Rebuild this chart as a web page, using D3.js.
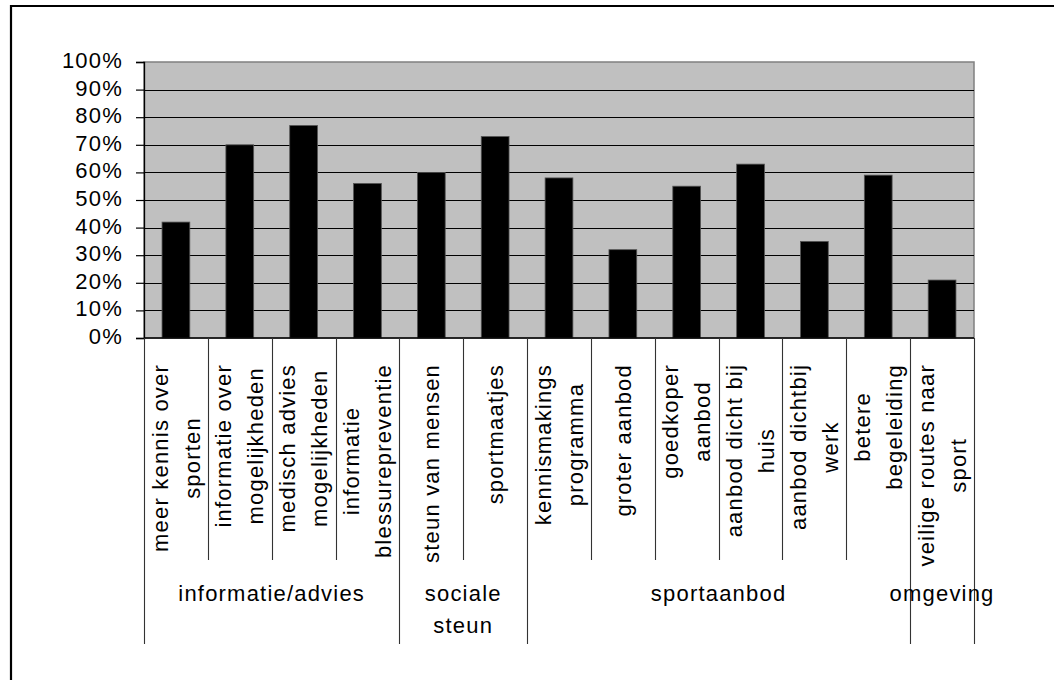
<!DOCTYPE html>
<html>
<head>
<meta charset="utf-8">
<script src="https://cdn.jsdelivr.net/npm/d3@7/dist/d3.min.js"></script>
<style>
  html, body { margin: 0; padding: 0; background: #fff; }
  svg { display: block; }
  text { font-family: "Liberation Sans", Arial, sans-serif; font-size: 22px; letter-spacing: 1.2px; fill: #000; }
</style>
</head>
<body>
<svg id="chart" width="1054" height="680"></svg>
<script>
// Share of respondents per wish (category), grouped by theme
const categories = [
  "meer kennis over\nsporten",
  "informatie over\nmogelijkheden",
  "medisch advies\nmogelijkheden",
  "informatie\nblessurepreventie",
  "steun van mensen",
  "sportmaatjes",
  "kennismakings\nprogramma",
  "groter aanbod",
  "goedkoper\naanbod",
  "aanbod dicht bij\nhuis",
  "aanbod dichtbij\nwerk",
  "betere\nbegeleiding",
  "veilige routes naar\nsport"
];
const values = [0.42, 0.70, 0.77, 0.56, 0.60, 0.73, 0.58, 0.32, 0.55, 0.63, 0.35, 0.59, 0.21];
const groupNames = ["informatie/advies", "sociale\nsteun", "sportaanbod", "omgeving"];
const groupSizes = [4, 2, 6, 1];
const yTicks = [0, 0.1, 0.2, 0.3, 0.4, 0.5, 0.6, 0.7, 0.8, 0.9, 1.0];

const svg = d3.select("#chart");

// plot frame geometry
const plot = { left: 144, right: 974, top: 62, bottom: 338 };
const catLineBottom = 560;
const groupLineBottom = 644;

const x = d3.scaleBand().domain(d3.range(categories.length)).range([plot.left, plot.right]).padding(0);
const y = d3.scaleLinear().domain([0, 1]).range([plot.bottom, plot.top]);

// outer chart border (left and top edges visible)
svg.append("path")
  .attr("d", `M11,690 L11,6 L1060,6`)
  .attr("fill", "none").attr("stroke", "#000").attr("stroke-width", 2.2);

// plot area
svg.append("rect")
  .attr("x", plot.left).attr("y", plot.top)
  .attr("width", plot.right - plot.left).attr("height", plot.bottom - plot.top)
  .attr("fill", "#c0c0c0").attr("stroke", "#808080").attr("stroke-width", 1.5);

// horizontal gridlines
svg.append("g").selectAll("line")
  .data(yTicks.filter(d => d > 0 && d < 1))
  .join("line")
  .attr("x1", plot.left).attr("x2", plot.right)
  .attr("y1", d => Math.round(y(d)) + 0.5).attr("y2", d => Math.round(y(d)) + 0.5)
  .attr("stroke", "#000").attr("stroke-width", 1.2);

// bars
const barW = x.bandwidth() * 0.435;
svg.append("g").selectAll("rect")
  .data(values)
  .join("rect")
  .attr("x", (d, i) => x(i) + (x.bandwidth() - barW) / 2)
  .attr("y", d => y(d))
  .attr("width", barW)
  .attr("height", d => y(0) - y(d))
  .attr("fill", "#000").attr("stroke", "#555").attr("stroke-width", 0.8);

// y axis
const yAxis = svg.append("g")
  .attr("transform", `translate(${plot.left},0)`)
  .call(d3.axisLeft(y).tickValues(yTicks).tickFormat(d3.format(".0%")).tickSize(8).tickPadding(13));
yAxis.attr("font-family", null).attr("font-size", null);
yAxis.select(".domain").attr("stroke", "#000").attr("stroke-width", 1.3);
yAxis.selectAll(".tick line").attr("stroke", "#000").attr("stroke-width", 1.2);
yAxis.selectAll(".tick text").attr("dy", "0.25em");

// x axis baseline
svg.append("line")
  .attr("x1", plot.left).attr("x2", plot.right)
  .attr("y1", plot.bottom).attr("y2", plot.bottom)
  .attr("stroke", "#000").attr("stroke-width", 1.3);

// category divider lines and group divider lines
const groupBounds = [0];
groupSizes.forEach(s => groupBounds.push(groupBounds[groupBounds.length - 1] + s));
const edgeX = i => (i >= categories.length ? plot.right : x(i));
svg.append("g").selectAll("line")
  .data(d3.range(categories.length + 1))
  .join("line")
  .attr("x1", i => Math.round(edgeX(i)) + 0.5).attr("x2", i => Math.round(edgeX(i)) + 0.5)
  .attr("y1", plot.bottom)
  .attr("y2", i => groupBounds.includes(i) ? groupLineBottom : catLineBottom)
  .attr("stroke", "#333").attr("stroke-width", 1.1);

// rotated category labels
const labelTop = 364;
const lineGap = 32;
const catG = svg.append("g");
categories.forEach((c, i) => {
  const lines = c.split("\n");
  const cx = x(i) + x.bandwidth() / 2;
  const g = catG.append("g");
  const texts = lines.map(ln => g.append("text").text(ln).attr("text-anchor", "middle"));
  const maxLen = d3.max(texts, t => t.node().getComputedTextLength());
  const cy = labelTop + maxLen / 2;
  texts.forEach((t, j) => {
    const off = (j - (lines.length - 1) / 2) * lineGap;
    t.attr("transform", `translate(${cx + off},${cy}) rotate(-90)`).attr("dy", "0.35em");
  });
});

// group labels
const groupG = svg.append("g");
groupNames.forEach((name, k) => {
  const gx = (edgeX(groupBounds[k]) + edgeX(groupBounds[k + 1])) / 2;
  name.split("\n").forEach((ln, j) => {
    groupG.append("text")
      .attr("x", gx).attr("y", 601 + j * lineGap)
      .attr("text-anchor", "middle").text(ln);
  });
});
</script>
</body>
</html>
